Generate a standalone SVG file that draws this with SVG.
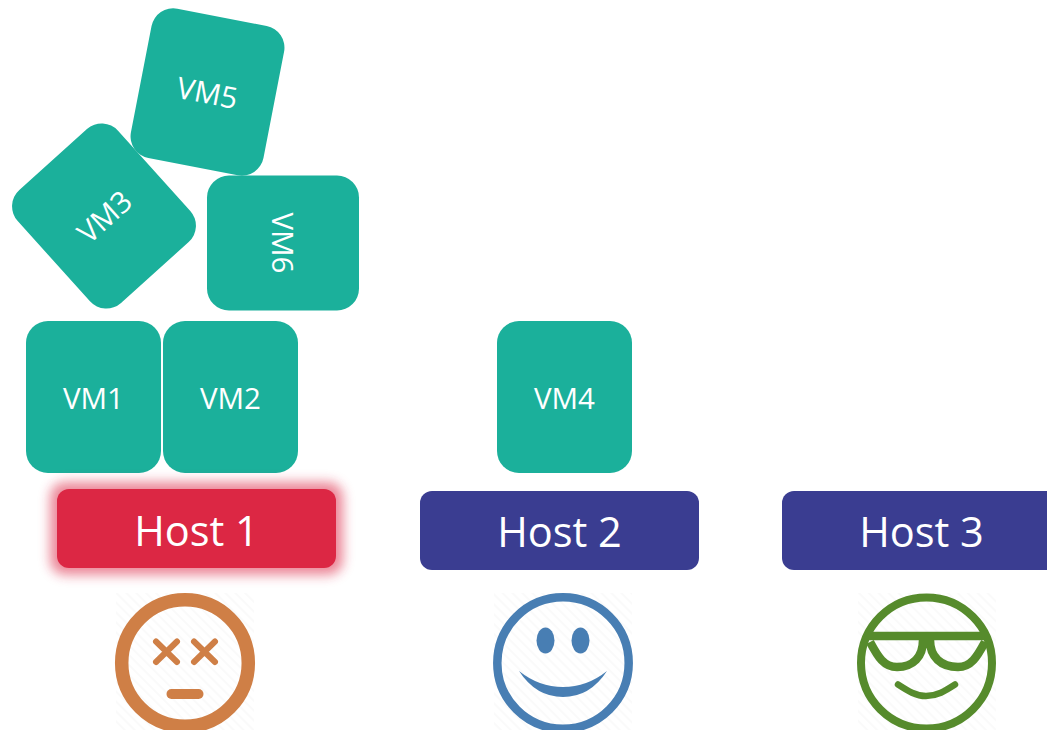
<svg xmlns="http://www.w3.org/2000/svg" width="1047" height="730" viewBox="0 0 1047 730">
<style>
.vm{fill:#1bb09b}
.vt{fill:#fff;font:29.500px "Open Sans","Noto Sans",sans-serif;text-anchor:middle;dominant-baseline:central}
.ht{fill:#fff;font:41.500px "Open Sans","Noto Sans",sans-serif;text-anchor:middle}
.hb{fill:#3a3d91}
.ln{fill:none;stroke-linecap:round}
</style>
<defs>
<filter id="glow" x="-20%" y="-50%" width="140%" height="200%"><feGaussianBlur stdDeviation="6"/></filter>
<pattern id="hatch" width="7" height="7" patternUnits="userSpaceOnUse" patternTransform="rotate(45)"><rect width="7" height="7" fill="#fff"/><rect width="7" height="2" fill="#fafafa"/></pattern>
</defs>
<rect width="1047" height="730" fill="#fff"/>
<g id="vm5"><rect class="vm" x="-67.500" y="-76" width="135" height="152" rx="22" transform="translate(207.500 92) rotate(11)"/><text class="vt" transform="translate(207.500 92) rotate(11)">VM5</text></g>
<g id="vm3"><rect class="vm" x="-67.500" y="-76" width="135" height="152" rx="22" transform="translate(104 216) rotate(-42)"/><text class="vt" transform="translate(104 216) rotate(-42)">VM3</text></g>
<g id="vm6"><rect class="vm" x="207" y="175.500" width="152" height="135" rx="22"/><text class="vt" transform="translate(283 243) rotate(90)">VM6</text></g>
<g id="vm1"><rect class="vm" x="26" y="321" width="135" height="152" rx="22"/><text class="vt" x="93.500" y="397">VM1</text></g>
<g id="vm2"><rect class="vm" x="163" y="321" width="135" height="152" rx="22"/><text class="vt" x="230.500" y="397">VM2</text></g>
<g id="vm4"><rect class="vm" x="497" y="321" width="135" height="152" rx="22"/><text class="vt" x="564.500" y="397">VM4</text></g>
<g id="host1"><rect x="50" y="482" width="293" height="93" rx="15" fill="#dc2744" opacity=".55" filter="url(#glow)"/><rect x="57" y="489" width="279" height="79" rx="12" fill="#dc2744"/><text class="ht" x="196.500" y="545.500">Host 1</text></g>
<g id="host2"><rect class="hb" x="420" y="491" width="279" height="79" rx="12"/><text class="ht" x="559.500" y="547">Host 2</text></g>
<g id="host3"><rect class="hb" x="782" y="491" width="279" height="79" rx="12"/><text class="ht" x="921.500" y="547">Host 3</text></g>
<g id="face1">
<rect x="116" y="593" width="138" height="137" fill="url(#hatch)"/>
<circle cx="185" cy="663" r="63.300" fill="none" stroke="#cf7f46" stroke-width="13.500"/>
<path class="ln" stroke="#cf7f46" stroke-width="6" d="M156 641.500L177 662M177 641.500L156 662M194 641.500L215 662M215 641.500L194 662"/>
<path class="ln" stroke="#cf7f46" stroke-width="10" d="M171.500 694H198.500"/>
</g>
<g id="face2">
<rect x="494" y="593" width="138" height="137" fill="url(#hatch)"/>
<circle cx="563" cy="663" r="65.700" fill="none" stroke="#487eb3" stroke-width="8.500"/>
<ellipse cx="545.500" cy="640.500" rx="9" ry="13" fill="#487eb3"/><ellipse cx="580.500" cy="640.500" rx="9" ry="13" fill="#487eb3"/>
<path fill="#487eb3" d="M519 671Q539 687 563 687T607 671Q590 697 563 697T519 671Z"/>
</g>
<g id="face3">
<rect x="858" y="593" width="138" height="137" fill="url(#hatch)"/>
<circle cx="926.500" cy="663" r="65.500" fill="none" stroke="#568b2c" stroke-width="8"/>
<path fill="none" stroke="#568b2c" stroke-width="8.500" d="M866 636H987"/>
<path fill="none" stroke="#568b2c" stroke-width="8.500" d="M870 642C878 657 884 667 897 667C913 667 923 657 923 640M930 640C930 657 941 667 958 667C971 667 977 657 985 642"/>
<path class="ln" stroke="#568b2c" stroke-width="6.500" d="M898 684.500C908 691 916 696 926 696C937 696 945 691 955 684.500"/>
</g>
<g id="connectors"/>
</svg>
